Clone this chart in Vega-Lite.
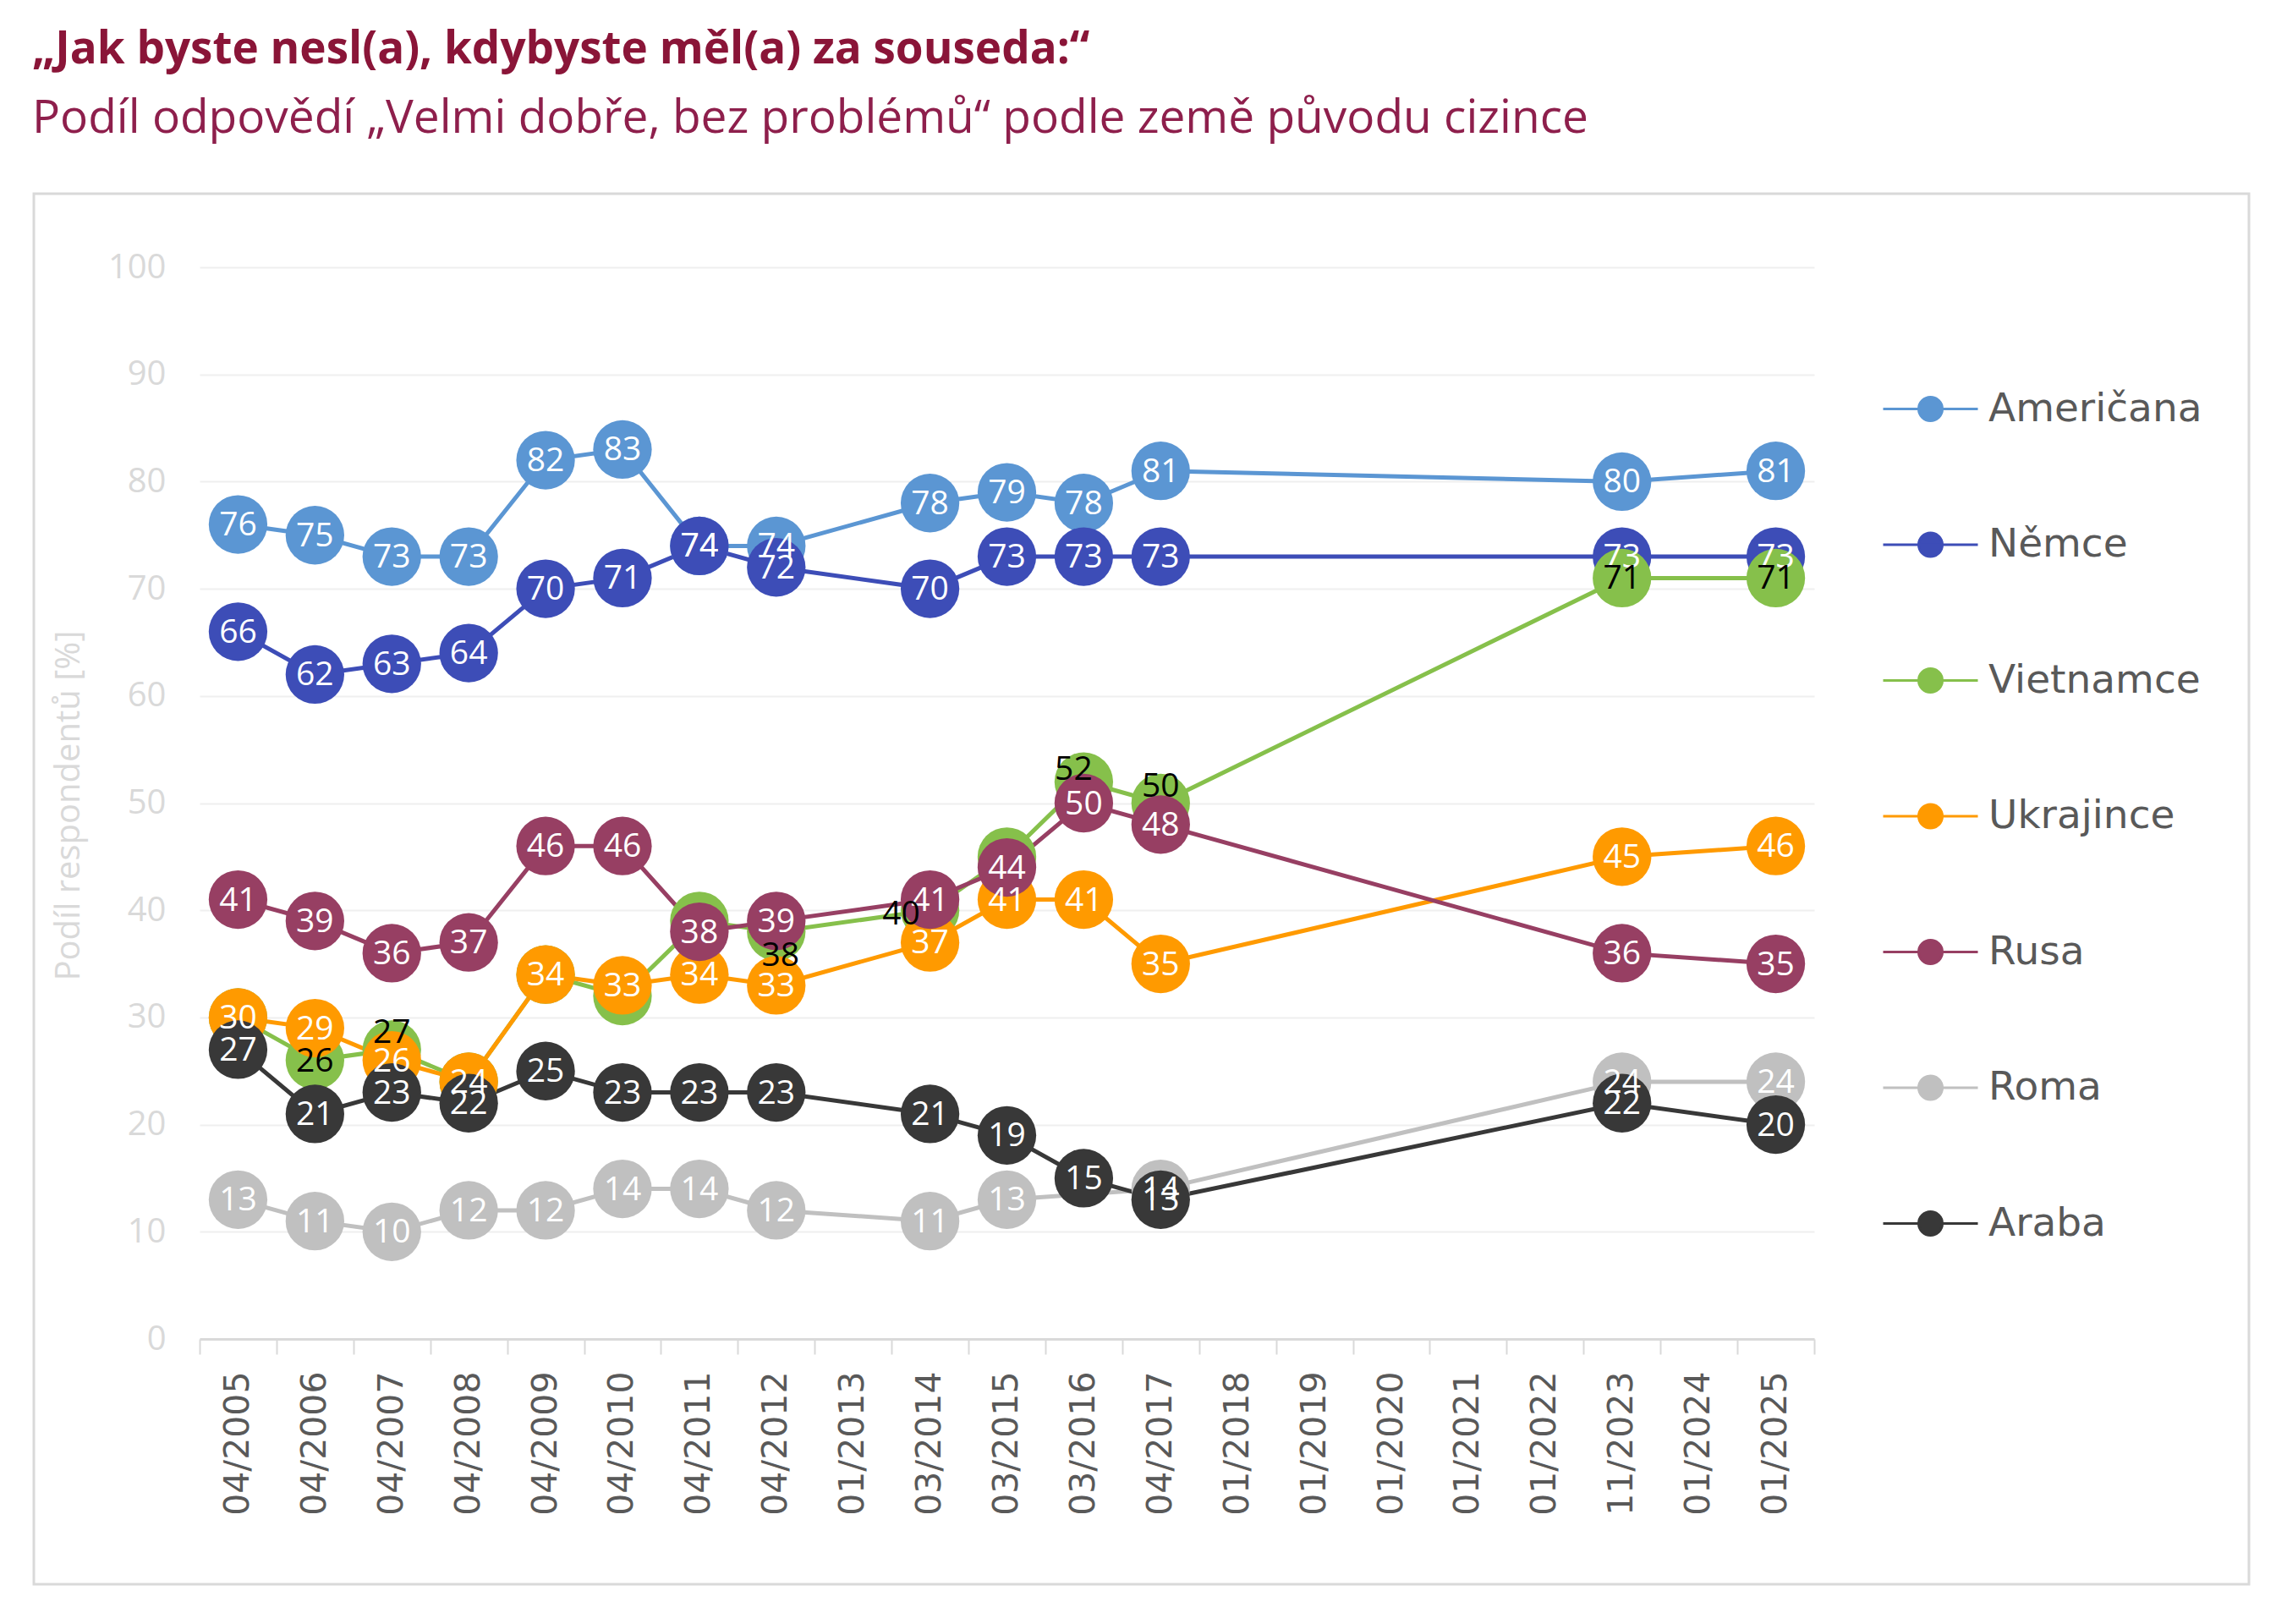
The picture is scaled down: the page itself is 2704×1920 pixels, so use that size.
{
  "$schema": "https://vega.github.io/schema/vega-lite/v6.json",
  "width": 2619,
  "height": 1644,
  "autosize": {"type": "none"},
  "padding": {"left": 40, "top": 229, "right": 45, "bottom": 47},
  "background": "white",
  "config": {"view": {"stroke": "#d9d9d9", "strokeWidth": 3}},
  "title": {
    "text": "„Jak byste nesl(a), kdybyste měl(a) za souseda:“",
    "subtitle": "Podíl odpovědí „Velmi dobře, bez problémů“ podle země původu cizince",
    "anchor": "start",
    "frame": "group",
    "dx": -2,
    "offset": 61,
    "font": "Open Sans",
    "fontSize": 53,
    "fontWeight": "bold",
    "color": "#8A1538",
    "subtitleFont": "Open Sans",
    "subtitleFontSize": 55,
    "subtitleColor": "#8E1F4C",
    "subtitlePadding": 28
  },
  "data": {
    "values": [
      {"series": "Američana", "date": "04/2005", "value": 76},
      {"series": "Američana", "date": "04/2006", "value": 75},
      {"series": "Američana", "date": "04/2007", "value": 73},
      {"series": "Američana", "date": "04/2008", "value": 73},
      {"series": "Američana", "date": "04/2009", "value": 82},
      {"series": "Američana", "date": "04/2010", "value": 83},
      {"series": "Američana", "date": "04/2011", "value": 74},
      {"series": "Američana", "date": "04/2012", "value": 74},
      {"series": "Američana", "date": "03/2014", "value": 78},
      {"series": "Američana", "date": "03/2015", "value": 79},
      {"series": "Američana", "date": "03/2016", "value": 78},
      {"series": "Američana", "date": "04/2017", "value": 81},
      {"series": "Američana", "date": "11/2023", "value": 80},
      {"series": "Američana", "date": "01/2025", "value": 81},
      {"series": "Němce", "date": "04/2005", "value": 66},
      {"series": "Němce", "date": "04/2006", "value": 62},
      {"series": "Němce", "date": "04/2007", "value": 63},
      {"series": "Němce", "date": "04/2008", "value": 64},
      {"series": "Němce", "date": "04/2009", "value": 70},
      {"series": "Němce", "date": "04/2010", "value": 71},
      {"series": "Němce", "date": "04/2011", "value": 74},
      {"series": "Němce", "date": "04/2012", "value": 72},
      {"series": "Němce", "date": "03/2014", "value": 70},
      {"series": "Němce", "date": "03/2015", "value": 73},
      {"series": "Němce", "date": "03/2016", "value": 73},
      {"series": "Němce", "date": "04/2017", "value": 73},
      {"series": "Němce", "date": "11/2023", "value": 73},
      {"series": "Němce", "date": "01/2025", "value": 73},
      {"series": "Vietnamce", "date": "04/2005", "value": 30},
      {"series": "Vietnamce", "date": "04/2006", "value": 26},
      {"series": "Vietnamce", "date": "04/2007", "value": 27},
      {"series": "Vietnamce", "date": "04/2008", "value": 24},
      {"series": "Vietnamce", "date": "04/2009", "value": 34},
      {"series": "Vietnamce", "date": "04/2010", "value": 32},
      {"series": "Vietnamce", "date": "04/2011", "value": 39},
      {"series": "Vietnamce", "date": "04/2012", "value": 38},
      {"series": "Vietnamce", "date": "03/2014", "value": 40},
      {"series": "Vietnamce", "date": "03/2015", "value": 45},
      {"series": "Vietnamce", "date": "03/2016", "value": 52},
      {"series": "Vietnamce", "date": "04/2017", "value": 50},
      {"series": "Vietnamce", "date": "11/2023", "value": 71},
      {"series": "Vietnamce", "date": "01/2025", "value": 71},
      {"series": "Ukrajince", "date": "04/2005", "value": 30},
      {"series": "Ukrajince", "date": "04/2006", "value": 29},
      {"series": "Ukrajince", "date": "04/2007", "value": 26},
      {"series": "Ukrajince", "date": "04/2008", "value": 24},
      {"series": "Ukrajince", "date": "04/2009", "value": 34},
      {"series": "Ukrajince", "date": "04/2010", "value": 33},
      {"series": "Ukrajince", "date": "04/2011", "value": 34},
      {"series": "Ukrajince", "date": "04/2012", "value": 33},
      {"series": "Ukrajince", "date": "03/2014", "value": 37},
      {"series": "Ukrajince", "date": "03/2015", "value": 41},
      {"series": "Ukrajince", "date": "03/2016", "value": 41},
      {"series": "Ukrajince", "date": "04/2017", "value": 35},
      {"series": "Ukrajince", "date": "11/2023", "value": 45},
      {"series": "Ukrajince", "date": "01/2025", "value": 46},
      {"series": "Rusa", "date": "04/2005", "value": 41},
      {"series": "Rusa", "date": "04/2006", "value": 39},
      {"series": "Rusa", "date": "04/2007", "value": 36},
      {"series": "Rusa", "date": "04/2008", "value": 37},
      {"series": "Rusa", "date": "04/2009", "value": 46},
      {"series": "Rusa", "date": "04/2010", "value": 46},
      {"series": "Rusa", "date": "04/2011", "value": 38},
      {"series": "Rusa", "date": "04/2012", "value": 39},
      {"series": "Rusa", "date": "03/2014", "value": 41},
      {"series": "Rusa", "date": "03/2015", "value": 44},
      {"series": "Rusa", "date": "03/2016", "value": 50},
      {"series": "Rusa", "date": "04/2017", "value": 48},
      {"series": "Rusa", "date": "11/2023", "value": 36},
      {"series": "Rusa", "date": "01/2025", "value": 35},
      {"series": "Roma", "date": "04/2005", "value": 13},
      {"series": "Roma", "date": "04/2006", "value": 11},
      {"series": "Roma", "date": "04/2007", "value": 10},
      {"series": "Roma", "date": "04/2008", "value": 12},
      {"series": "Roma", "date": "04/2009", "value": 12},
      {"series": "Roma", "date": "04/2010", "value": 14},
      {"series": "Roma", "date": "04/2011", "value": 14},
      {"series": "Roma", "date": "04/2012", "value": 12},
      {"series": "Roma", "date": "03/2014", "value": 11},
      {"series": "Roma", "date": "03/2015", "value": 13},
      {"series": "Roma", "date": "04/2017", "value": 14},
      {"series": "Roma", "date": "11/2023", "value": 24},
      {"series": "Roma", "date": "01/2025", "value": 24},
      {"series": "Araba", "date": "04/2005", "value": 27},
      {"series": "Araba", "date": "04/2006", "value": 21},
      {"series": "Araba", "date": "04/2007", "value": 23},
      {"series": "Araba", "date": "04/2008", "value": 22},
      {"series": "Araba", "date": "04/2009", "value": 25},
      {"series": "Araba", "date": "04/2010", "value": 23},
      {"series": "Araba", "date": "04/2011", "value": 23},
      {"series": "Araba", "date": "04/2012", "value": 23},
      {"series": "Araba", "date": "03/2014", "value": 21},
      {"series": "Araba", "date": "03/2015", "value": 19},
      {"series": "Araba", "date": "03/2016", "value": 15},
      {"series": "Araba", "date": "04/2017", "value": 13},
      {"series": "Araba", "date": "11/2023", "value": 22},
      {"series": "Araba", "date": "01/2025", "value": 20}
    ]
  },
  "encoding": {
    "x": {
      "field": "date",
      "type": "ordinal",
      "sort": null,
      "scale": {
        "type": "band",
        "domain": ["04/2005","04/2006","04/2007","04/2008","04/2009","04/2010","04/2011","04/2012","01/2013","03/2014","03/2015","03/2016","04/2017","01/2018","01/2019","01/2020","01/2021","01/2022","11/2023","01/2024","01/2025"],
        "range": [196, 2105],
        "paddingInner": 0,
        "paddingOuter": 0
      },
      "axis": {
        "title": null,
        "offset": -290,
        "labelAngle": -90,
        "labelFont": "DejaVu Sans",
        "labelFontSize": 41,
        "labelColor": "#595959",
        "labelPadding": 20,
        "labelOverlap": false,
        "tickBand": "extent",
        "tickSize": 18,
        "tickColor": "#d9d9d9",
        "tickWidth": 2,
        "domainColor": "#d9d9d9",
        "domainWidth": 3,
        "grid": false
      }
    },
    "y": {
      "field": "value",
      "type": "quantitative",
      "scale": {"domain": [0, 100], "range": [1354, 87], "nice": false},
      "axis": {
        "title": "Podíl respondentů [%]",
        "offset": -196,
        "values": [0, 10, 20, 30, 40, 50, 60, 70, 80, 90, 100],
        "domain": false,
        "ticks": false,
        "grid": true,
        "gridColor": "#efefef",
        "gridWidth": 2,
        "labelFont": "Open Sans",
        "labelFontSize": 40,
        "labelColor": "#d9d9d9",
        "labelPadding": 40,
        "titleFont": "Open Sans",
        "titleFontSize": 40,
        "titleFontWeight": "normal",
        "titleColor": "#d9d9d9",
        "titleX": -155,
        "titleY": 723,
        "titleAngle": -90,
        "titleAlign": "center",
        "titleBaseline": "middle"
      }
    }
  },
  "layer": [
    {
      "mark": {"type": "line", "strokeWidth": 5},
      "encoding": {
        "order": {"value": null},
        "color": {
          "field": "series",
          "type": "nominal",
          "scale": {
            "domain": ["Američana", "Němce", "Vietnamce", "Ukrajince", "Rusa", "Roma", "Araba"],
            "range": ["#5B96D3", "#3D4DB7", "#86C04B", "#FF9A00", "#973F63", "#C0C0C0", "#383838"]
          },
          "legend": {
            "title": null,
            "orient": "none",
            "legendX": 2219,
            "legendY": 231,
            "direction": "vertical",
            "padding": 0,
            "symbolType": "M-4,0L4,0M1,0A1,1,0,1,1,-1,0A1,1,0,1,1,1,0Z",
            "symbolSize": 784,
            "symbolStrokeWidth": 3,
            "symbolOpacity": 1,
            "labelFont": "DejaVu Sans",
            "labelFontSize": 47,
            "labelColor": "#595959",
            "labelOffset": 45,
            "labelLimit": 0,
            "rowPadding": 112.5,
            "encode": {
              "symbols": {
                "update": {
                  "fill": {"scale": "color", "field": "value"},
                  "stroke": {"scale": "color", "field": "value"},
                  "strokeWidth": {"value": 3},
                  "opacity": {"value": 1}
                }
              }
            }
          }
        }
      }
    },
    {
      "mark": {"type": "circle", "size": 4800, "opacity": 1, "strokeWidth": 0},
      "encoding": {
        "color": {"field": "series", "type": "nominal"}
      }
    },
    {
      "transform": [{"filter": "datum.series !== 'Vietnamce'"}],
      "mark": {"type": "text", "font": "Open Sans", "fontSize": 39, "align": "center", "baseline": "middle", "dy": 1},
      "encoding": {
        "text": {"field": "value", "type": "quantitative"},
        "color": {"value": "white"}
      }
    },
    {
      "transform": [{"filter": {"and": [{"field": "series", "equal": "Vietnamce"}, {"field": "date", "oneOf": ["04/2006", "11/2023", "01/2025"]}]}}],
      "mark": {"type": "text", "font": "Open Sans", "fontSize": 39, "align": "center", "baseline": "middle", "dy": 1},
      "encoding": {
        "text": {"field": "value", "type": "quantitative"},
        "color": {"value": "black"}
      }
    },
    {
      "transform": [{"filter": {"and": [{"field": "series", "equal": "Vietnamce"}, {"field": "date", "oneOf": ["04/2007", "04/2017"]}]}}],
      "mark": {"type": "text", "font": "Open Sans", "fontSize": 39, "align": "center", "baseline": "middle", "dy": -20},
      "encoding": {
        "text": {"field": "value", "type": "quantitative"},
        "color": {"value": "black"}
      }
    },
    {
      "transform": [{"filter": {"and": [{"field": "series", "equal": "Vietnamce"}, {"field": "date", "equal": "03/2016"}]}}],
      "mark": {"type": "text", "font": "Open Sans", "fontSize": 39, "align": "center", "baseline": "middle", "dx": -12, "dy": -14},
      "encoding": {
        "text": {"field": "value", "type": "quantitative"},
        "color": {"value": "black"}
      }
    },
    {
      "transform": [{"filter": {"and": [{"field": "series", "equal": "Vietnamce"}, {"field": "date", "equal": "04/2012"}]}}],
      "mark": {"type": "text", "font": "Open Sans", "fontSize": 39, "align": "center", "baseline": "middle", "dx": 5, "dy": 28},
      "encoding": {
        "text": {"field": "value", "type": "quantitative"},
        "color": {"value": "black"}
      }
    },
    {
      "transform": [{"filter": {"and": [{"field": "series", "equal": "Vietnamce"}, {"field": "date", "equal": "03/2014"}]}}],
      "mark": {"type": "text", "font": "Open Sans", "fontSize": 39, "align": "center", "baseline": "middle", "dx": -34, "dy": 5},
      "encoding": {
        "text": {"field": "value", "type": "quantitative"},
        "color": {"value": "black"}
      }
    }
  ]
}
